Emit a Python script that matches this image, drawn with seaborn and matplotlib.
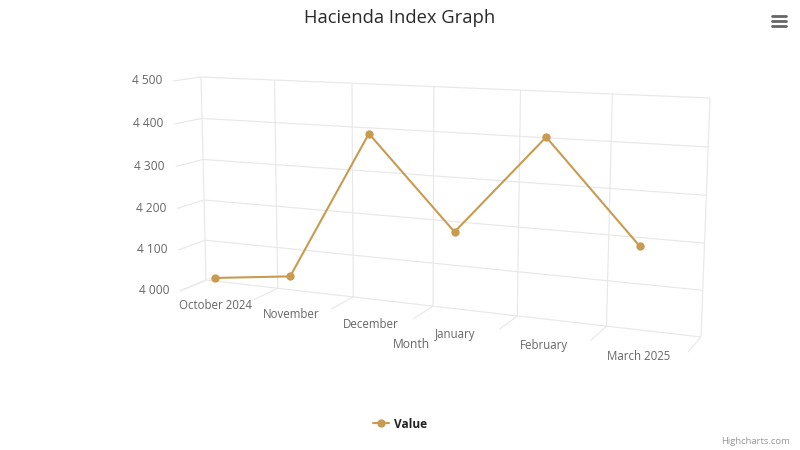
import numpy as np
import pandas as pd
import matplotlib
matplotlib.use("Agg")
import matplotlib.pyplot as plt
from matplotlib.transforms import Transform
import seaborn as sns

months = ["October 2024", "November", "December", "January", "February", "March 2025"]
values = [4042, 4066, 4405, 4204, 4420, 4209]
y_ticks = [4000, 4100, 4200, 4300, 4400, 4500]
y_labels = ["4 000", "4 100", "4 200", "4 300", "4 400", "4 500"]

LINE = "#c89b50"
GRID = "#e8e8e8"
TXT = "#666666"

sns.set_theme(style="white")
plt.rcParams["font.family"] = ["Open Sans", "DejaVu Sans"]


def homography(src, dst):
    A, b = [], []
    for (x, y), (u, v) in zip(src, dst):
        A.append([x, y, 1, 0, 0, 0, -u * x, -u * y]); b.append(u)
        A.append([0, 0, 0, x, y, 1, -v * x, -v * y]); b.append(v)
    return np.append(np.linalg.solve(np.array(A, float), np.array(b, float)), 1).reshape(3, 3)


class Projective(Transform):
    input_dims = output_dims = 2
    is_affine = False

    def __init__(self, H):
        super().__init__()
        self.H = H

    def transform_non_affine(self, xy):
        xy = np.asarray(xy, float)
        p = np.c_[xy, np.ones(len(xy))] @ self.H.T
        return p[:, :2] / p[:, 2:]


# plot box (category position, value) -> canvas pixels for the back wall, front plane, series plane
xlo, xhi, ylo, yhi = -0.5, 5.5, 4000, 4500
box = [(xlo, ylo), (xlo, yhi), (xhi, ylo), (xhi, yhi)]
back = Projective(homography(box, [(206, 280), (201, 77), (701, 337), (710, 98)]))
front = Projective(homography(box, [(180, 291), (173, 81), (688, 352), (697, 105)]))
series = Projective(homography(box, [(179, 291), (172, 81), (686, 352), (695, 105)]))

fig = plt.figure(figsize=(8, 4.5), dpi=100)
ax = fig.add_axes([0, 0, 1, 1])

GL = dict(color=GRID, lw=0.85, solid_capstyle="butt", zorder=1)


def seg(tr, a, b):
    return tr.transform(np.array([a, b], float))


for i in np.arange(xlo, xhi + 0.5):
    p = seg(back, (i, ylo), (i, yhi))
    ax.plot(p[:, 0], p[:, 1], **GL)
    q0 = back.transform(np.array([[i, ylo]], float))[0]
    q1 = front.transform(np.array([[i, ylo]], float))[0]
    ax.plot([q0[0], q1[0]], [q0[1], q1[1]], **GL)
for v in y_ticks:
    p = seg(back, (xlo, v), (xhi, v))
    ax.plot(p[:, 0], p[:, 1], **GL)
    q0 = back.transform(np.array([[xlo, v]], float))[0]
    q1 = front.transform(np.array([[xlo, v]], float))[0]
    ax.plot([q0[0], q1[0]], [q0[1], q1[1]], **GL)

df = pd.DataFrame({"pos": range(len(months)), "value": values})
sns.lineplot(data=df, x="pos", y="value", ax=ax, color=LINE, lw=1.5, marker="o", ms=6,
             mew=0, sort=False, errorbar=None, label="Value",
             transform=series + ax.transData, zorder=3)

for i, m in enumerate(months):
    x, y = front.transform(np.array([[i, ylo]], float))[0]
    ax.text(x - 0.5, y + 10.5, m, ha="center", va="center", fontsize=8.3, color=TXT)
for v, s in zip(y_ticks, y_labels):
    x, y = front.transform(np.array([[xlo, v]], float))[0]
    ax.text(x - 11, y - 0.3, s, ha="right", va="center", fontsize=8.6, color=TXT)

ax.text(400, 18, "Hacienda Index Graph", ha="center", va="center", fontsize=13.2, color="#2a2a2a")
ax.text(411.5, 344, "Month", ha="center", va="center", fontsize=8.7, color=TXT)
ax.text(790, 442, "Highcharts.com", ha="right", va="center", fontsize=6.8, color="#999999")

# context menu symbol
for y in (16, 21, 26):
    ax.plot([772, 786], [y, y], color="#666666", lw=2.0, solid_capstyle="round")

leg = ax.legend(loc="center", bbox_to_anchor=(400 / 800, 1 - 424 / 450), frameon=False,
                prop={"size": 8.6, "weight": "bold"}, handlelength=1.33, handletextpad=0.45,
                labelcolor="#222222")

ax.set_xlim(0, 800)
ax.set_ylim(450, 0)
ax.set_xlabel("")
ax.set_ylabel("")
ax.axis("off")
fig.savefig("out.png", dpi=100, facecolor="white")
